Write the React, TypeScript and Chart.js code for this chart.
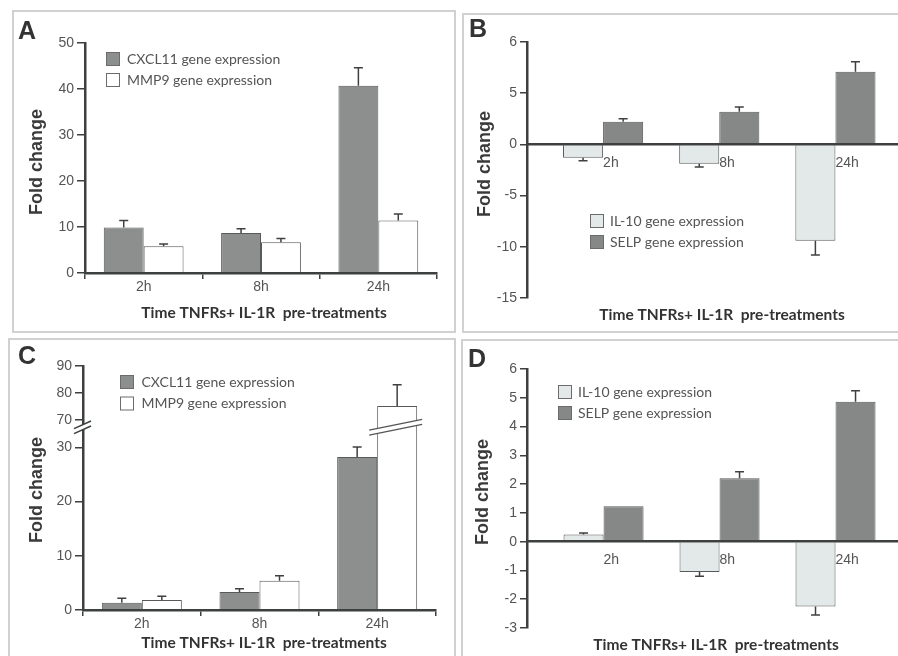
import React, { useEffect, useRef } from 'react';
import { Chart, registerables, LinearScale } from 'chart.js';

Chart.register(...registerables);

// ---------------- DATA ----------------
const TIMES = ['2h', '8h', '24h'];

// Panel A
const A_CXCL11 = [9.9, 8.7, 40.7];
const A_CXCL11_ERR = [1.5, 0.9, 3.9];
const A_MMP9 = [5.8, 6.7, 11.4];
const A_MMP9_ERR = [0.5, 0.8, 1.4];
const A_Y_MIN = 0;
const A_Y_MAX = 50;
const A_Y_STEP = 10;

// Panel B
const B_IL10 = [-1.3, -1.9, -9.4];
const B_IL10_ERR = [0.3, 0.3, 1.4];
const B_SELP = [2.2, 3.2, 7.1];
const B_SELP_ERR = [0.3, 0.45, 0.96];
const B_Y_TICKS = [-15, -10, -5, 0, 5, 10];
const B_Y_LABELS = ['-15', '-10', '-5', '0', '5', '6'];

// Panel C (broken axis between 30 and 70)
const C_CXCL11 = [1.35, 3.3, 28.2];
const C_CXCL11_ERR = [0.8, 0.6, 2.3];
const C_MMP9 = [1.85, 5.4, 75.2];
const C_MMP9_ERR = [0.7, 0.9, 7.9];
const C_Y_TICKS = [0, 10, 20, 30, 70, 80, 90];
const C_BREAK_LOW = 30;
const C_BREAK_HIGH = 70;

// Panel D
const D_IL10 = [0.25, -1.05, -2.25];
const D_IL10_ERR = [0.05, 0.15, 0.3];
const D_SELP = [1.23, 2.2, 4.86];
const D_SELP_ERR = [0, 0.23, 0.38];
const D_Y_MIN = -3;
const D_Y_MAX = 6;

const CXCL11_LABEL = 'CXCL11 gene expression';
const MMP9_LABEL = 'MMP9 gene expression';
const IL10_LABEL = 'IL-10 gene expression';
const SELP_LABEL = 'SELP gene expression';
const X_TITLE = 'Time TNFRs+ IL-1R  pre-treatments';
const Y_TITLE = 'Fold change';

// ---------------- STYLE ----------------
const AXIS = '#3d403f';
const TICK_TEXT = '#555';
const DARK_FILL = '#8c8f8d';
const SELP_FILL = '#858886';
const LIGHT_FILL = '#e3e8e8';
const BAR_BORDER = '#585a59';
const ARIAL = "'Liberation Sans', Arial, sans-serif";
const HUMAN = "Lato, 'Open Sans', sans-serif";
const TICK_FONT = { family: ARIAL, size: 14 };

// ---------------- BROKEN SCALE ----------------
function brokenFwd(v: number) {
  if (v <= C_BREAK_LOW) return v;
  if (v >= C_BREAK_HIGH) return C_BREAK_LOW + 5 + (v - C_BREAK_HIGH) * 0.5;
  return C_BREAK_LOW + ((v - C_BREAK_LOW) * 5) / (C_BREAK_HIGH - C_BREAK_LOW);
}

class BrokenLinearScale extends LinearScale {
  static id = 'brokenLinear';
  static defaults = LinearScale.defaults;
  getPixelForValue(value: any, index?: number) {
    if (value === null || value === undefined || isNaN(+value)) return NaN;
    return super.getPixelForValue(brokenFwd(+value), index);
  }
}
Chart.register(BrokenLinearScale as any);

// ---------------- DECOR PLUGIN ----------------
const decorPlugin: any = {
  id: 'decor',
  afterDatasetsDraw(chart: any) {
    const y = chart.scales.y;
    const ctx = chart.ctx;
    ctx.save();
    ctx.strokeStyle = '#3f4140';
    ctx.lineWidth = 1.5;
    chart.data.datasets.forEach((ds: any, di: number) => {
      const meta = chart.getDatasetMeta(di);
      (ds.errors || []).forEach((e: number, i: number) => {
        if (!e) return;
        const bar = meta.data[i];
        const raw = ds.data[i];
        const v = typeof raw === 'object' ? raw.y : raw;
        const tip = y.getPixelForValue(v >= 0 ? v + e : v - e);
        ctx.beginPath();
        ctx.moveTo(bar.x, bar.y);
        ctx.lineTo(bar.x, tip);
        ctx.moveTo(bar.x - 4.5, tip);
        ctx.lineTo(bar.x + 4.5, tip);
        ctx.stroke();
      });
    });
    ctx.restore();
  },
  afterDraw(chart: any, _args: any, opts: any) {
    const ctx = chart.ctx;
    ctx.save();
    // axis break
    if (opts.axisBreak) {
      const { low, high, frac, dataset, index } = opts.axisBreak;
      const y = chart.scales.y;
      const pl = y.getPixelForValue(low);
      const ph = y.getPixelForValue(high);
      const yb = pl + frac * (ph - pl);
      const drawBreak = (x0: number, x1: number, slope: number, gap: number, color: string, lw: number) => {
        const dy = (x1 - x0) * slope;
        ctx.fillStyle = '#fff';
        ctx.beginPath();
        ctx.moveTo(x0, yb + dy / 2 - gap / 2);
        ctx.lineTo(x1, yb - dy / 2 - gap / 2);
        ctx.lineTo(x1, yb - dy / 2 + gap / 2);
        ctx.lineTo(x0, yb + dy / 2 + gap / 2);
        ctx.closePath();
        ctx.fill();
        ctx.strokeStyle = color;
        ctx.lineWidth = lw;
        ctx.beginPath();
        ctx.moveTo(x0, yb + dy / 2 - gap / 2);
        ctx.lineTo(x1, yb - dy / 2 - gap / 2);
        ctx.moveTo(x0, yb + dy / 2 + gap / 2);
        ctx.lineTo(x1, yb - dy / 2 + gap / 2);
        ctx.stroke();
      };
      const ax = chart.chartArea.left;
      drawBreak(ax - 9, ax + 8, 0.45, 5, AXIS, 1.5);
      const bar = chart.getDatasetMeta(dataset).data[index];
      drawBreak(bar.x - bar.width / 2 - 8, bar.x + bar.width / 2 + 5, 0.2, 5, '#555', 1.3);
    }
    // legend
    if (opts.legend) {
      const { x, y, box, gap, textDx } = opts.legend;
      chart.data.datasets.forEach((ds: any, i: number) => {
        const top = y + i * gap;
        ctx.fillStyle = ds.backgroundColor;
        ctx.fillRect(x, top, box, box);
        ctx.strokeStyle = '#6a6c6b';
        ctx.lineWidth = 1;
        ctx.strokeRect(x + 0.5, top + 0.5, box - 1, box - 1);
        ctx.fillStyle = '#555';
        ctx.font = `14px ${HUMAN}`;
        ctx.textBaseline = 'middle';
        ctx.textAlign = 'left';
        ctx.fillText(ds.label, x + textDx, top + box / 2);
      });
    }
    // panel letter
    if (opts.letter) {
      ctx.fillStyle = '#333';
      ctx.font = `bold 25px ${ARIAL}`;
      ctx.textBaseline = 'alphabetic';
      ctx.textAlign = 'left';
      ctx.fillText(opts.letter.text, opts.letter.x, opts.letter.y);
    }
    // axis titles
    if (opts.yTitle) {
      ctx.save();
      ctx.translate(opts.yTitle.x, opts.yTitle.y);
      ctx.rotate(-Math.PI / 2);
      ctx.fillStyle = '#3a3a3a';
      ctx.font = `bold 18px ${ARIAL}`;
      ctx.textAlign = 'center';
      ctx.textBaseline = 'middle';
      ctx.fillText(opts.yTitle.text, 0, 0);
      ctx.restore();
    }
    if (opts.xTitle) {
      ctx.fillStyle = '#333';
      ctx.font = `bold 15.5px ${HUMAN}`;
      ctx.textAlign = 'center';
      ctx.textBaseline = 'middle';
      ctx.fillText(opts.xTitle.text, opts.xTitle.x, opts.xTitle.y);
    }
    ctx.restore();
  },
};

const commonYGrid = { drawOnChartArea: false, drawTicks: true, tickLength: 8, color: AXIS, lineWidth: 1.5 };
const commonBorder = { display: true, color: AXIS, width: 2.5, z: 1 };

function barDs(label: string, data: any[], errors: number[], fill: string) {
  return {
    label,
    data,
    errors,
    backgroundColor: fill,
    borderColor: BAR_BORDER,
    borderWidth: 1,
    categoryPercentage: 0.68,
    barPercentage: 1,
  };
}

const xy = (vals: number[]) => vals.map((v, i) => ({ x: i, y: v }));

function buildA() {
  return {
    type: 'bar',
    data: {
      labels: TIMES,
      datasets: [barDs(CXCL11_LABEL, A_CXCL11, A_CXCL11_ERR, DARK_FILL), barDs(MMP9_LABEL, A_MMP9, A_MMP9_ERR, '#ffffff')],
    },
    options: {
      responsive: false,
      animation: false,
      devicePixelRatio: 1,
      layout: { padding: { top: 43, right: 18, left: 0, bottom: 0 } },
      plugins: {
        legend: { display: false },
        tooltip: { enabled: false },
        decor: {
          letter: { text: 'A', x: 18, y: 39 },
          legend: { x: 106, y: 52, box: 14, gap: 21, textDx: 21 },
          yTitle: { text: Y_TITLE, x: 37, y: 162 },
          xTitle: { text: X_TITLE, x: 264, y: 313 },
        },
      },
      scales: {
        x: {
          type: 'category',
          offset: true,
          grid: { display: true, offset: true, drawOnChartArea: false, drawTicks: true, tickLength: 6, color: AXIS, lineWidth: 1.5 },
          border: commonBorder,
          ticks: { font: TICK_FONT, color: TICK_TEXT, padding: 0 },
          afterFit: (s: any) => { s.height = 61; },
        },
        y: {
          min: A_Y_MIN,
          max: A_Y_MAX,
          ticks: { stepSize: A_Y_STEP, font: TICK_FONT, color: TICK_TEXT, padding: 3 },
          grid: commonYGrid,
          border: commonBorder,
          afterFit: (s: any) => { s.width = 85; },
        },
      },
    },
    plugins: [decorPlugin],
  };
}

function buildC() {
  return {
    type: 'bar',
    data: {
      labels: TIMES,
      datasets: [barDs(CXCL11_LABEL, C_CXCL11, C_CXCL11_ERR, DARK_FILL), barDs(MMP9_LABEL, C_MMP9, C_MMP9_ERR, '#ffffff')],
    },
    options: {
      responsive: false,
      animation: false,
      devicePixelRatio: 1,
      layout: { padding: { top: 32, right: 19, left: 0, bottom: 0 } },
      plugins: {
        legend: { display: false },
        tooltip: { enabled: false },
        decor: {
          letter: { text: 'C', x: 18, y: 30 },
          legend: { x: 120, y: 41, box: 14, gap: 21.5, textDx: 21.5 },
          yTitle: { text: Y_TITLE, x: 37, y: 156 },
          xTitle: { text: X_TITLE, x: 264, y: 309 },
          axisBreak: { low: C_BREAK_LOW, high: C_BREAK_HIGH, frac: 0.74, dataset: 1, index: 2 },
        },
      },
      scales: {
        x: {
          type: 'category',
          offset: true,
          grid: { display: true, offset: true, drawOnChartArea: false, drawTicks: true, tickLength: 6, color: AXIS, lineWidth: 1.5 },
          border: commonBorder,
          ticks: { font: TICK_FONT, color: TICK_TEXT, padding: 0 },
          afterFit: (s: any) => { s.height = 46; },
        },
        y: {
          type: 'brokenLinear',
          min: 0,
          max: brokenFwd(C_Y_TICKS[C_Y_TICKS.length - 1]),
          afterBuildTicks: (s: any) => { s.ticks = C_Y_TICKS.map((v) => ({ value: v })); },
          ticks: { font: TICK_FONT, color: TICK_TEXT, padding: 3, callback: (v: any) => String(v) },
          grid: commonYGrid,
          border: commonBorder,
          afterFit: (s: any) => { s.width = 83; },
        },
      },
    },
    plugins: [decorPlugin],
  };
}

function xCentered(min: number, max: number) {
  return {
    type: 'linear',
    position: { y: 0 },
    offset: false,
    bounds: 'data',
    min,
    max,
    afterBuildTicks: (s: any) => { s.ticks = TIMES.map((_, i) => ({ value: i })); },
    ticks: { font: TICK_FONT, color: TICK_TEXT, padding: 10, align: 'start', callback: (v: any) => TIMES[v] },
    grid: { display: false, drawTicks: false, offset: false },
    border: commonBorder,
    afterFit: (s: any) => { s.height = 0; },
  };
}

function buildB() {
  return {
    type: 'bar',
    data: {
      datasets: [barDs(IL10_LABEL, xy(B_IL10), B_IL10_ERR, LIGHT_FILL), barDs(SELP_LABEL, xy(B_SELP), B_SELP_ERR, SELP_FILL)].map((d) => ({ ...d, categoryPercentage: 0.69 })),
    },
    options: {
      responsive: false,
      animation: false,
      devicePixelRatio: 1,
      layout: { padding: { top: 42, right: 1, left: 0, bottom: 36 } },
      plugins: {
        legend: { display: false },
        tooltip: { enabled: false },
        decor: {
          letter: { text: 'B', x: 14, y: 37 },
          legend: { x: 135, y: 214, box: 14, gap: 21, textDx: 20 },
          yTitle: { text: Y_TITLE, x: 30, y: 164 },
          xTitle: { text: X_TITLE, x: 267, y: 315 },
        },
      },
      scales: {
        x: xCentered(-0.655, 2.53),
        y: {
          min: B_Y_TICKS[0],
          max: B_Y_TICKS[B_Y_TICKS.length - 1],
          afterBuildTicks: (s: any) => { s.ticks = B_Y_TICKS.map((v) => ({ value: v })); },
          ticks: { font: TICK_FONT, color: TICK_TEXT, padding: 3, callback: (v: any) => B_Y_LABELS[B_Y_TICKS.indexOf(v)] },
          grid: { ...commonYGrid, tickLength: 7 },
          border: commonBorder,
          afterFit: (s: any) => { s.width = 72; },
        },
      },
    },
    plugins: [decorPlugin],
  };
}

function buildD() {
  return {
    type: 'bar',
    data: {
      datasets: [barDs(IL10_LABEL, xy(D_IL10), D_IL10_ERR, LIGHT_FILL), barDs(SELP_LABEL, xy(D_SELP), D_SELP_ERR, SELP_FILL)].map((d) => ({ ...d, categoryPercentage: 0.69 })),
    },
    options: {
      responsive: false,
      animation: false,
      devicePixelRatio: 1,
      layout: { padding: { top: 35, right: 1, left: 0, bottom: 28 } },
      plugins: {
        legend: { display: false },
        tooltip: { enabled: false },
        decor: {
          letter: { text: 'D', x: 13, y: 33 },
          legend: { x: 103, y: 51, box: 14, gap: 21, textDx: 20 },
          yTitle: { text: Y_TITLE, x: 28, y: 158 },
          xTitle: { text: X_TITLE, x: 261, y: 311 },
        },
      },
      scales: {
        x: xCentered(-0.66, 2.53),
        y: {
          min: D_Y_MIN,
          max: D_Y_MAX,
          ticks: { stepSize: 1, font: TICK_FONT, color: TICK_TEXT, padding: 3 },
          grid: { ...commonYGrid, tickLength: 7 },
          border: commonBorder,
          afterFit: (s: any) => { s.width = 72; },
        },
      },
    },
    plugins: [decorPlugin],
  };
}

type PanelProps = { left: number; top: number; width: number; height: number; build: () => any };

function ChartPanel({ left, top, width, height, build }: PanelProps) {
  const ref = useRef<HTMLCanvasElement>(null);
  useEffect(() => {
    const chart = new Chart(ref.current as HTMLCanvasElement, build());
    return () => chart.destroy();
  }, []);
  return (
    <canvas
      ref={ref}
      width={width}
      height={height}
      style={{ position: 'absolute', left, top, width, height }}
    />
  );
}

const boxStyle = (left: number, top: number, width: number, height: number): React.CSSProperties => ({
  position: 'absolute',
  left,
  top,
  width,
  height,
  border: '2px solid #cfd2d1',
  boxSizing: 'border-box',
});

export default function App() {
  return (
    <div style={{ position: 'absolute', left: 0, top: 0, width: 898, height: 656, background: '#fff', overflow: 'hidden' }}>
      <div style={boxStyle(12, 10, 444, 323)} />
      <div style={boxStyle(462, 13, 450, 320)} />
      <div style={boxStyle(8, 338, 448, 330)} />
      <div style={boxStyle(461, 339, 450, 330)} />
      <ChartPanel left={0} top={0} width={455} height={334} build={buildA} />
      <ChartPanel left={455} top={0} width={443} height={334} build={buildB} />
      <ChartPanel left={0} top={334} width={455} height={322} build={buildC} />
      <ChartPanel left={455} top={334} width={443} height={322} build={buildD} />
    </div>
  );
}
